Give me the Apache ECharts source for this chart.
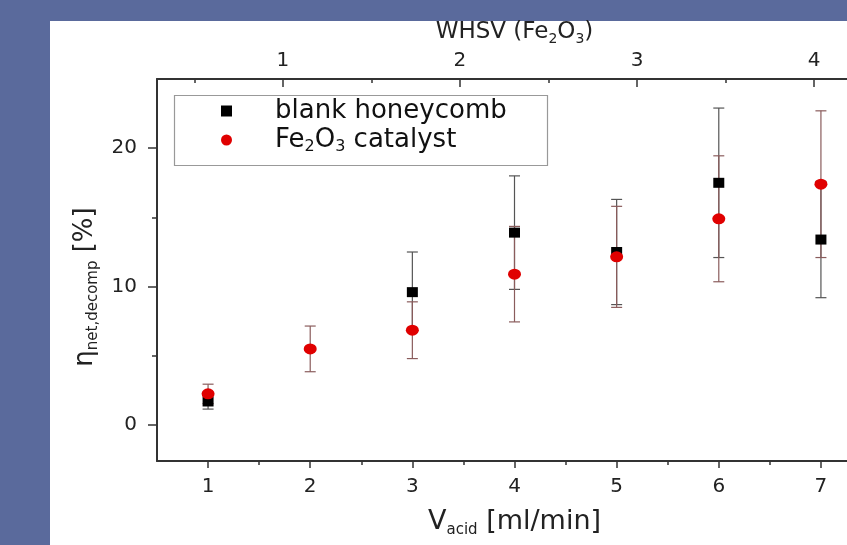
<!DOCTYPE html>
<html><head><meta charset="utf-8">
<script src="https://cdn.jsdelivr.net/npm/echarts@6/dist/echarts.min.js"></script>
<style>
html,body{margin:0;padding:0;background:#5a6a9c;overflow:hidden;width:847px;height:545px;}
#panel{position:absolute;left:50px;top:21px;width:797px;height:524px;background:#fff;}
#chart{position:absolute;left:0;top:0;width:872px;height:545px;}
</style></head><body>
<div id="panel"></div><div id="chart"></div>
<script>
// ---- data ----
const vAcid = [1, 2, 3, 4, 5, 6, 7];
const blankValues = [1.7, null, 9.6, 13.9, 12.5, 17.5, 13.4];
const blankErrors = [0.55, null, 2.9, 4.1, 3.8, 5.4, 4.2];
const feValues = [2.25, 5.5, 6.85, 10.9, 12.15, 14.9, 17.4];
const feErrors = [0.7, 1.65, 2.05, 3.45, 3.65, 4.55, 5.3];
const xMajorTicks = [1, 2, 3, 4, 5, 6, 7];
const xMinorTicks = [1.5, 2.5, 3.5, 4.5, 5.5, 6.5];
const yMajorTicks = [0, 10, 20];
const yMinorTicks = [5, 15];
const whsvMajorTicks = [1, 2, 3, 4];
const whsvMinorTicks = [0.5, 1.5, 2.5, 3.5];
const whsvPerVacid = 0.577;
const xRange = [0.5, 7.5];
const yRange = [-2.6, 25];

// ---- build ----
const FONT = 'DejaVu Sans';
const AX = '#333';
const pts = (vals) => vAcid.map((v, i) => [v, vals[i]]).filter(d => d[1] != null);
const errs = (vals, e) => vAcid.map((v, i) => vals[i] == null ? null : [v, vals[i] - e[i], vals[i] + e[i]]).filter(d => d);

function errRender(color) {
  return function (params, api) {
    const x = api.value(0), lo = api.value(1), hi = api.value(2);
    const a = api.coord([x, lo]), b = api.coord([x, hi]);
    const hw = 5.5;
    const st = { stroke: color, lineWidth: 1.2 };
    return { type: 'group', children: [
      { type: 'line', shape: { x1: a[0], y1: a[1], x2: b[0], y2: b[1] }, style: st },
      { type: 'line', shape: { x1: a[0] - hw, y1: a[1], x2: a[0] + hw, y2: a[1] }, style: st },
      { type: 'line', shape: { x1: b[0] - hw, y1: b[1], x2: b[0] + hw, y2: b[1] }, style: st }
    ]};
  };
}

const labelStyle = { fontFamily: FONT, fontSize: 20, color: '#222' };

const option = {
  backgroundColor: 'transparent',
  animation: false,
  grid: { left: 157, top: 79, right: 0, bottom: 84, containLabel: false },
  legend: {
    data: ['blank honeycomb', 'Fe2O3 catalyst'],
    orient: 'vertical', left: 221, top: 98, padding: 0, itemGap: 1,
    itemWidth: 11, itemHeight: 11,
    formatter: function (name) {
      return name === 'Fe2O3 catalyst' ? '{n|Fe}{s|2}{n|O}{s|3}{n| catalyst}' : '{n|' + name + '}';
    },
    textStyle: {
      fontFamily: FONT, fontSize: 26, color: '#111', padding: [0, 0, 0, 38],
      rich: {
        n: { fontFamily: FONT, fontSize: 26, lineHeight: 28, color: '#111' },
        s: { fontFamily: FONT, fontSize: 16, lineHeight: 16, padding: [14, 0, 0, 0], color: '#111' }
      }
    }
  },
  xAxis: [
    {
      type: 'value', position: 'bottom', min: xRange[0], max: xRange[1],
      axisLine: { show: true, onZero: false, lineStyle: { color: AX, width: 2 } },
      axisTick: { show: true, inside: false, length: 7, customValues: xMajorTicks, lineStyle: { color: AX, width: 1.5 } },
      axisLabel: { show: true, customValues: xMajorTicks, margin: 16, ...labelStyle },
      splitLine: { show: false },
      name: '{n|V}{s|acid}{n| [ml/min]}', nameLocation: 'middle', nameGap: 46,
      nameTextStyle: {
        rich: {
          n: { fontFamily: FONT, fontSize: 27, lineHeight: 30, color: '#222' },
          s: { fontFamily: FONT, fontSize: 15, lineHeight: 15, padding: [17, 0, 0, 0], color: '#222' }
        }
      }
    },
    {
      type: 'value', position: 'top', min: xRange[0] * whsvPerVacid, max: xRange[1] * whsvPerVacid,
      axisLine: { show: true, onZero: false, lineStyle: { color: AX, width: 2 } },
      axisTick: { show: true, inside: true, length: 8, customValues: whsvMajorTicks, lineStyle: { color: AX, width: 1.5 } },
      axisLabel: { show: true, customValues: whsvMajorTicks, margin: 8, ...labelStyle },
      splitLine: { show: false },
      name: '{n|WHSV (Fe}{s|2}{n|O}{s|3}{n|)}', nameLocation: 'middle', nameGap: 34,
      nameTextStyle: {
        rich: {
          n: { fontFamily: FONT, fontSize: 23, lineHeight: 25, color: '#222' },
          s: { fontFamily: FONT, fontSize: 14, lineHeight: 14, padding: [13, 0, 0, 0], color: '#222' }
        }
      }
    },
    {
      type: 'value', position: 'bottom', min: xRange[0], max: xRange[1],
      axisLine: { show: false, onZero: false },
      axisTick: { show: true, inside: false, length: 4, customValues: xMinorTicks, lineStyle: { color: AX, width: 1.5 } },
      axisLabel: { show: false }, splitLine: { show: false }
    },
    {
      type: 'value', position: 'top', min: xRange[0] * whsvPerVacid, max: xRange[1] * whsvPerVacid,
      axisLine: { show: false, onZero: false },
      axisTick: { show: true, inside: true, length: 4, customValues: whsvMinorTicks, lineStyle: { color: AX, width: 1.5 } },
      axisLabel: { show: false }, splitLine: { show: false }
    }
  ],
  yAxis: [
    {
      type: 'value', position: 'left', min: yRange[0], max: yRange[1],
      axisLine: { show: true, onZero: false, lineStyle: { color: AX, width: 2 } },
      axisTick: { show: true, inside: false, length: 9, customValues: yMajorTicks, lineStyle: { color: AX, width: 1.5 } },
      axisLabel: { show: true, customValues: yMajorTicks, margin: 20, ...labelStyle },
      splitLine: { show: false },
      name: '{n|η}{s|net,decomp}{n| [%]}', nameLocation: 'middle', nameGap: 56, nameRotate: 90,
      nameTextStyle: {
        padding: [0, 34, 0, 0],
        rich: {
          n: { fontFamily: FONT, fontSize: 26, lineHeight: 30, color: '#222' },
          s: { fontFamily: FONT, fontSize: 15, lineHeight: 15, padding: [16, 0, 0, 0], color: '#222' }
        }
      }
    },
    {
      type: 'value', position: 'left', min: yRange[0], max: yRange[1],
      axisLine: { show: false, onZero: false },
      axisTick: { show: true, inside: false, length: 5, customValues: yMinorTicks, lineStyle: { color: AX, width: 1.5 } },
      axisLabel: { show: false }, splitLine: { show: false }
    }
  ],
  series: [
    {
      name: 'blank err', type: 'custom', xAxisIndex: 0, yAxisIndex: 0, z: 2,
      renderItem: errRender('#555'), encode: { x: 0, y: [1, 2] },
      data: errs(blankValues, blankErrors), silent: true
    },
    {
      name: 'fe err', type: 'custom', xAxisIndex: 0, yAxisIndex: 0, z: 2,
      renderItem: errRender('#8a5c5c'), encode: { x: 0, y: [1, 2] },
      data: errs(feValues, feErrors), silent: true
    },
    {
      name: 'blank honeycomb', type: 'scatter', xAxisIndex: 0, yAxisIndex: 0, z: 3,
      symbol: 'rect', symbolSize: [11, 10],
      itemStyle: { color: '#000', opacity: 1 },
      data: pts(blankValues)
    },
    {
      name: 'Fe2O3 catalyst', type: 'scatter', xAxisIndex: 0, yAxisIndex: 0, z: 4,
      symbol: 'circle', symbolSize: [13, 11],
      itemStyle: { color: '#e00000', opacity: 1 },
      data: pts(feValues)
    }
  ],
  graphic: [
    { type: 'rect', left: 172, top: 93, shape: { width: 373, height: 70 },
      style: { fill: 'none', stroke: '#999', lineWidth: 1.2 }, z: 1 }
  ]
};

const chart = echarts.init(document.getElementById('chart'), null, { renderer: 'canvas' });
chart.setOption(option);
</script>
</body></html>
